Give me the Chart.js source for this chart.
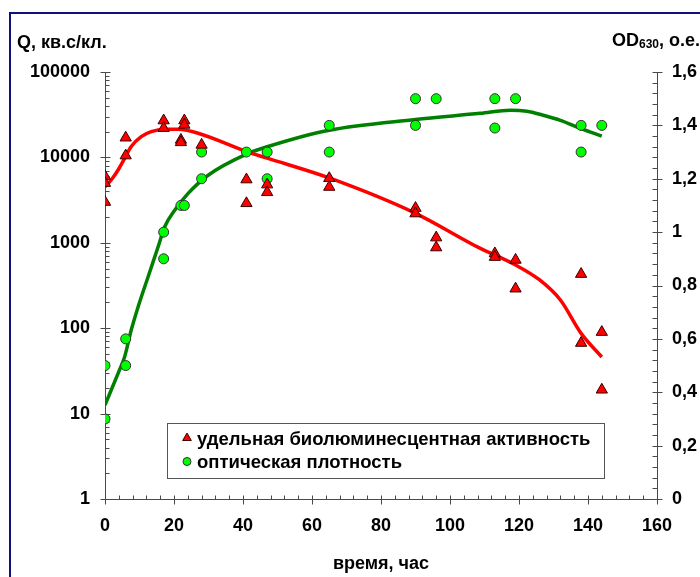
<!DOCTYPE html>
<html>
<head>
<meta charset="utf-8">
<script src="https://cdn.jsdelivr.net/npm/chart.js@4.4.1/dist/chart.umd.min.js"></script>
<style>
  html, body { margin: 0; padding: 0; background: #ffffff; }
  #wrap { width: 700px; height: 577px; }
</style>
</head>
<body>
<div id="wrap"><canvas id="chart" width="700" height="577"></canvas></div>
<script>
// Specific bioluminescent activity, measured points (time in hours, Q)
const lumTime  = [0, 0, 0, 6, 6, 17, 17, 22, 22, 23, 23, 28, 41, 41, 47, 47, 65, 65, 90, 90, 96, 96, 113, 113, 119, 119, 138, 138, 144, 144];
const lumValue = [6000, 5000, 3000, 17000, 10500, 27000, 22000, 16000, 15000, 27000, 24000, 14000, 5500, 2900, 4800, 3900, 5700, 4500, 2550, 2200, 1150, 880, 750, 680, 630, 290, 430, 67, 90, 19];

// Optical density OD630, measured points
const odTime  = [0, 0, 6, 6, 17, 17, 22, 23, 28, 28, 41, 47, 47, 65, 65, 90, 90, 96, 113, 113, 119, 138, 138, 144];
const odValue = [0.5, 0.3, 0.6, 0.5, 1.0, 0.9, 1.1, 1.1, 1.3, 1.2, 1.3, 1.3, 1.2, 1.4, 1.3, 1.5, 1.4, 1.5, 1.5, 1.39, 1.5, 1.4, 1.3, 1.4];

// Smoothed trend of the bioluminescent activity
const lumFitTime  = [0, 1.8, 3.8, 5.7, 7.6, 10.5, 13.4, 17.3, 21.2, 27, 41, 47, 65, 90, 108.8, 113, 119, 126, 132, 138, 144];
const lumFitValue = [4540, 5440, 7120, 9760, 13400, 17500, 20000, 21400, 21300, 19150, 11700, 9800, 5750, 2215, 860, 720, 550, 367, 214, 87, 46];

// Smoothed trend of the optical density
const odFitTime  = [0, 3.8, 5.7, 7.6, 9.6, 12.5, 15.4, 17.3, 20.2, 24.1, 29.9, 41, 47, 65, 90, 108.8, 117.5, 122.3, 127, 132, 138, 144];
const odFitValue = [0.352, 0.471, 0.533, 0.633, 0.72, 0.833, 0.945, 1.02, 1.082, 1.145, 1.213, 1.292, 1.32, 1.382, 1.422, 1.445, 1.457, 1.453, 1.438, 1.419, 1.388, 1.36];

// Tick labels
const timeTicks = [0, 20, 40, 60, 80, 100, 120, 140, 160];
const lumTicks  = [1, 10, 100, 1000, 10000, 100000];
const odTicks   = [0, 0.2, 0.4, 0.6, 0.8, 1, 1.2, 1.4, 1.6];

// Texts
const seriesNames = ['удельная биолюминесцентная активность', 'оптическая плотность'];
const leftTitle   = 'Q, кв.с/кл.';
const rightTitle  = ['OD', '630', ', о.е.'];
const bottomTitle = 'время, час';

const FONT_FAMILY = '"Liberation Sans", Arial, sans-serif';
const AXIS_COLOR = '#4a4a4a';
const RED = '#ff0000';
const GREEN_FILL = '#00ff00';
const GREEN_LINE = '#008000';

const toPoints = (xs, ys) => xs.map((x, i) => ({ x: x, y: ys[i] }));

// Axis lines, major/minor tick marks, titles, legend and frame
const decorations = {
  id: 'decorations',
  beforeDraw(chart) {
    const ctx = chart.ctx;
    ctx.save();
    ctx.fillStyle = '#ffffff';
    ctx.fillRect(0, 0, chart.width, chart.height);
    // navy frame around the figure
    ctx.strokeStyle = '#101078';
    ctx.lineWidth = 2;
    ctx.beginPath();
    ctx.moveTo(10, chart.height + 2);
    ctx.lineTo(10, 13);
    ctx.lineTo(chart.width + 2, 13);
    ctx.stroke();
    ctx.restore();
  },
  beforeDatasetsDraw(chart) {
    const ctx = chart.ctx;
    const a = chart.chartArea;
    const sx = chart.scales.x, sq = chart.scales.y, so = chart.scales.y1;
    ctx.save();
    ctx.strokeStyle = AXIS_COLOR;
    ctx.lineWidth = 1;
    ctx.beginPath();
    // axis lines
    const L = Math.round(a.left) + 0.5, R = Math.round(a.right) + 0.5, B = Math.round(a.bottom) + 0.5;
    ctx.moveTo(L, a.top); ctx.lineTo(L, B);
    ctx.moveTo(R, a.top); ctx.lineTo(R, B);
    ctx.moveTo(L, B); ctx.lineTo(R, B);
    // time axis: majors cross the axis, minors every 4 h inside
    for (let t = sx.min; t <= sx.max + 1e-9; t += 4) {
      const px = Math.round(sx.getPixelForValue(t)) + 0.5;
      const major = timeTicks.includes(t);
      ctx.moveTo(px, B - 4);
      ctx.lineTo(px, major ? B + 5 : B);
    }
    // logarithmic axis: decades cross, 2..9 inside
    for (let d = 0; d < lumTicks.length; d++) {
      const base = lumTicks[d];
      const py = Math.round(sq.getPixelForValue(base)) + 0.5;
      ctx.moveTo(L - 5, py); ctx.lineTo(L + 5, py);
      if (d < lumTicks.length - 1) {
        for (let m = 2; m <= 9; m++) {
          const pm = Math.round(sq.getPixelForValue(base * m)) + 0.5;
          ctx.moveTo(L, pm); ctx.lineTo(L + 4, pm);
        }
      }
    }
    // optical density axis: majors cross, minors every 0.04 inside
    for (let k = 0; k <= 40; k++) {
      const v = k * 0.04;
      const py = Math.round(so.getPixelForValue(v)) + 0.5;
      const major = k % 5 === 0;
      ctx.moveTo(R - 5, py);
      ctx.lineTo(major ? R + 5 : R, py);
    }
    ctx.stroke();

    // titles
    ctx.fillStyle = '#000000';
    ctx.textBaseline = 'alphabetic';
    ctx.textAlign = 'left';
    ctx.font = 'bold 18px ' + FONT_FAMILY;
    ctx.fillText(leftTitle, 17, 48);
    let x = 612;
    ctx.font = 'bold 18px ' + FONT_FAMILY;
    ctx.fillText(rightTitle[0], x, 46);
    x += ctx.measureText(rightTitle[0]).width;
    ctx.font = 'bold 12px ' + FONT_FAMILY;
    ctx.fillText(rightTitle[1], x, 48);
    x += ctx.measureText(rightTitle[1]).width;
    ctx.font = 'bold 18px ' + FONT_FAMILY;
    ctx.fillText(rightTitle[2], x, 46);
    ctx.restore();
  },
  afterDatasetsDraw(chart) {
    const ctx = chart.ctx;
    ctx.save();
    // legend box
    ctx.fillStyle = '#ffffff';
    ctx.fillRect(167.5, 423.5, 437, 55);
    ctx.strokeStyle = '#555555';
    ctx.lineWidth = 1;
    ctx.strokeRect(167.5, 423.5, 437, 55);
    // legend markers
    ctx.fillStyle = RED; ctx.strokeStyle = '#3a0000';
    ctx.beginPath();
    const r = 5;
    ctx.moveTo(187, 438 - r);
    ctx.lineTo(187 + r * 0.866, 438 + r * 0.5);
    ctx.lineTo(187 - r * 0.866, 438 + r * 0.5);
    ctx.closePath();
    ctx.fill(); ctx.stroke();
    ctx.fillStyle = GREEN_FILL; ctx.strokeStyle = '#333333';
    ctx.beginPath();
    ctx.arc(187, 461.5, 4, 0, Math.PI * 2);
    ctx.fill(); ctx.stroke();
    // legend texts
    ctx.fillStyle = '#000000';
    ctx.font = 'bold 18.5px ' + FONT_FAMILY;
    ctx.textAlign = 'left';
    ctx.textBaseline = 'alphabetic';
    ctx.fillText(seriesNames[0], 197, 445);
    ctx.fillText(seriesNames[1], 197, 468);
    ctx.restore();
  }
};

const tickFont = { family: FONT_FAMILY, size: 18, weight: 'bold' };

new Chart(document.getElementById('chart'), {
  type: 'scatter',
  data: {
    datasets: [
      {
        label: 'trend-lum',
        type: 'line',
        data: toPoints(lumFitTime, lumFitValue),
        yAxisID: 'y',
        borderColor: RED,
        borderWidth: 3.5,
        pointRadius: 0,
        fill: false,
        cubicInterpolationMode: 'monotone',
        order: 3
      },
      {
        label: 'trend-od',
        type: 'line',
        data: toPoints(odFitTime, odFitValue),
        yAxisID: 'y1',
        borderColor: GREEN_LINE,
        borderWidth: 3.5,
        pointRadius: 0,
        fill: false,
        cubicInterpolationMode: 'monotone',
        order: 4
      },
      {
        label: seriesNames[0],
        data: toPoints(lumTime, lumValue),
        yAxisID: 'y',
        pointStyle: 'triangle',
        pointRadius: 6.5,
        pointBackgroundColor: RED,
        pointBorderColor: '#3a0000',
        pointBorderWidth: 1,
        order: 1
      },
      {
        label: seriesNames[1],
        data: toPoints(odTime, odValue),
        yAxisID: 'y1',
        pointStyle: 'circle',
        pointRadius: 5,
        pointBackgroundColor: GREEN_FILL,
        pointBorderColor: '#333333',
        pointBorderWidth: 1,
        order: 2
      }
    ]
  },
  options: {
    responsive: false,
    devicePixelRatio: 1,
    animation: false,
    events: [],
    layout: { padding: { left: 0, right: 0, top: 72, bottom: 0 } },
    plugins: {
      legend: { display: false },
      tooltip: { enabled: false },
      title: { display: false }
    },
    scales: {
      x: {
        type: 'linear',
        position: 'bottom',
        min: 0,
        max: 160,
        afterBuildTicks: s => { s.ticks = timeTicks.map(v => ({ value: v })); },
        afterFit: s => { s.height = 78; },
        ticks: { font: tickFont, color: '#000000', padding: 16, maxRotation: 0, autoSkip: false, callback: v => String(v) },
        grid: { display: false, drawTicks: false },
        border: { display: false },
        title: { display: true, text: bottomTitle, color: '#000000', font: tickFont, padding: { top: 0, bottom: 2 } }
      },
      y: {
        type: 'logarithmic',
        position: 'left',
        min: 1,
        max: 100000,
        afterBuildTicks: s => { s.ticks = lumTicks.map(v => ({ value: v, major: true })); },
        afterFit: s => { s.width = 105; },
        ticks: { font: tickFont, color: '#000000', padding: 15, autoSkip: false, callback: v => String(v) },
        grid: { display: false, drawTicks: false },
        border: { display: false }
      },
      y1: {
        type: 'linear',
        position: 'right',
        min: 0,
        max: 1.6,
        afterBuildTicks: s => { s.ticks = odTicks.map(v => ({ value: v })); },
        afterFit: s => { s.width = 43; },
        ticks: { font: tickFont, color: '#000000', padding: 15, autoSkip: false, callback: v => String(v).replace('.', ',') },
        grid: { display: false, drawTicks: false },
        border: { display: false }
      }
    }
  },
  plugins: [decorations]
});
</script>
</body>
</html>
